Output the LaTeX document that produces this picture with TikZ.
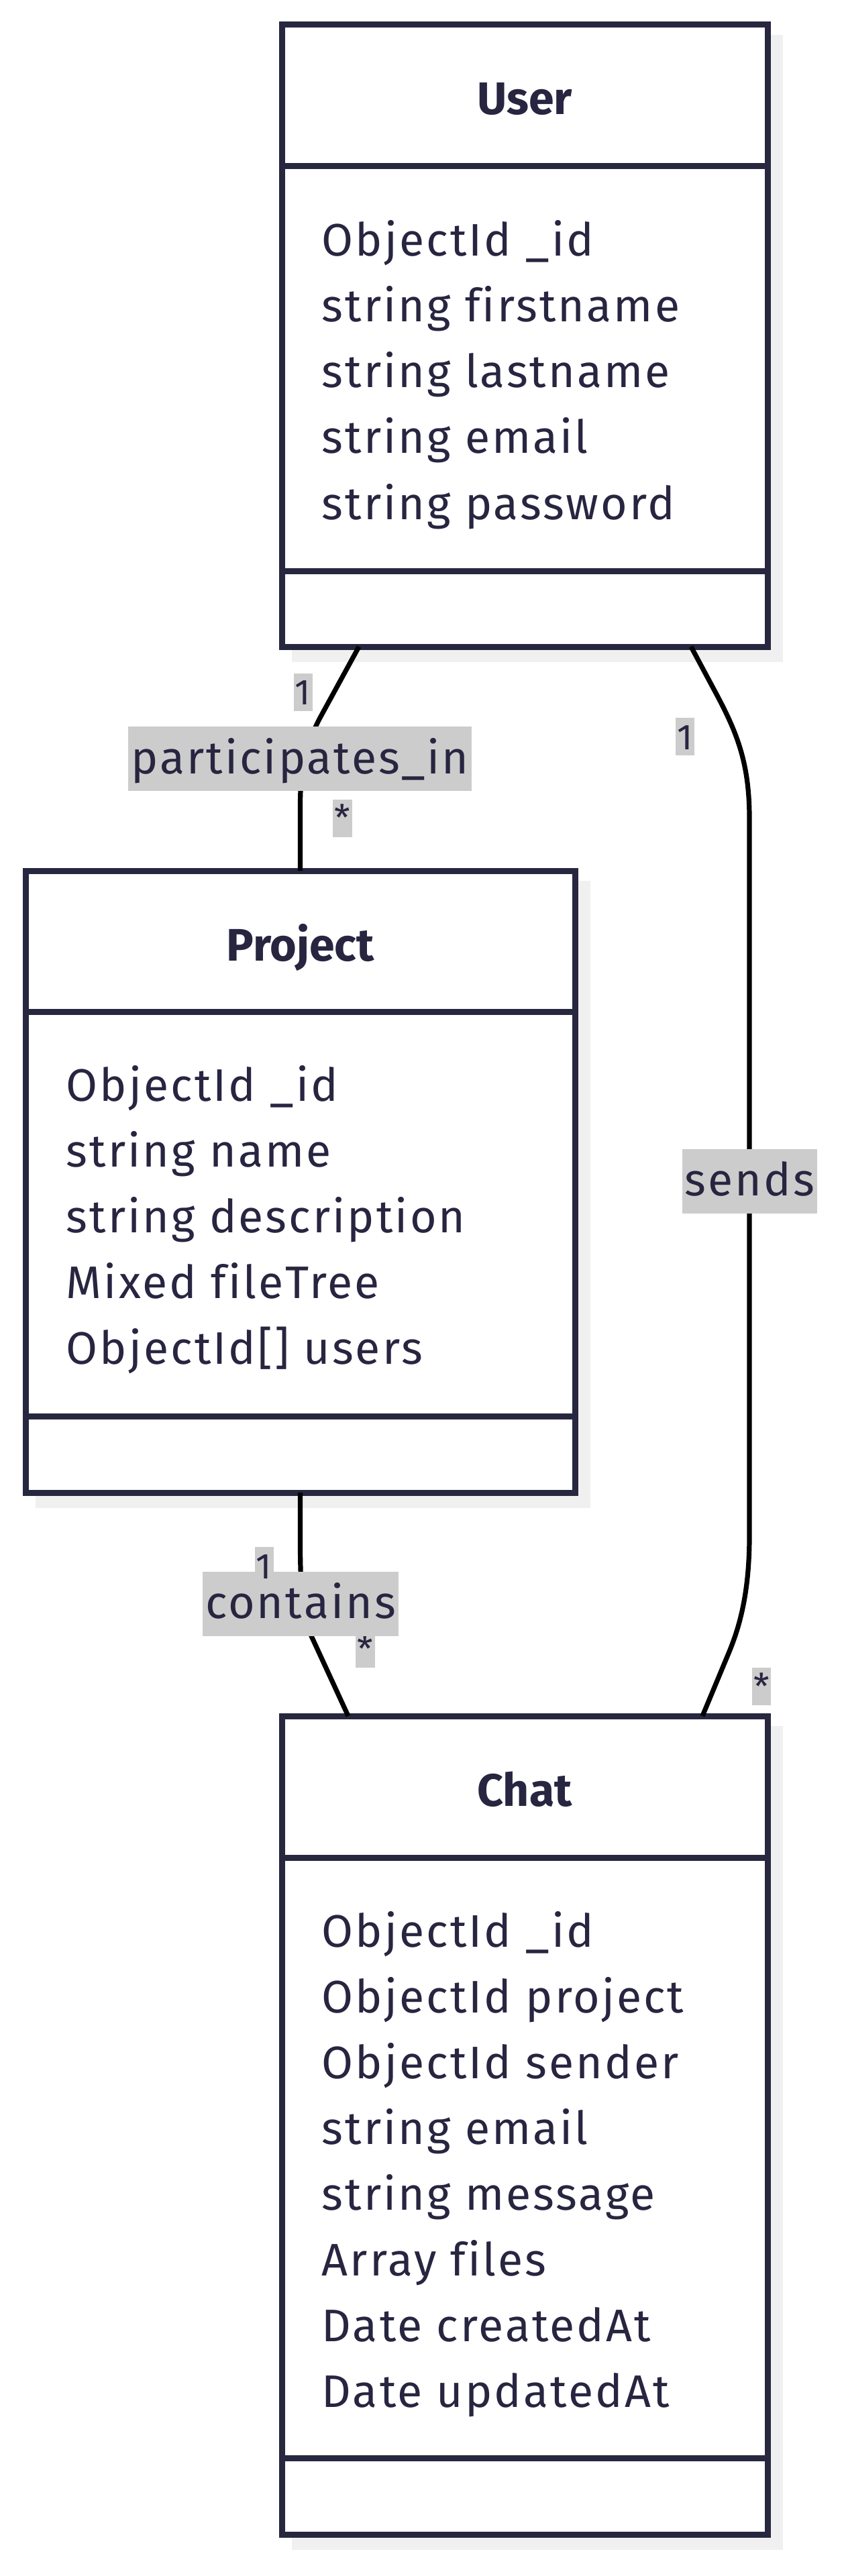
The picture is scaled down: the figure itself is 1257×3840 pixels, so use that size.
\documentclass[tikz,border=0pt]{standalone}
\usepackage{fontspec}
\setmainfont{Fira Sans}
\newfontfamily\attrfont{Fira Sans}[LetterSpace=4.5, Ligatures=NoCommon]
\usetikzlibrary{calc,backgrounds}
\definecolor{boxline}{HTML}{272740}
\definecolor{txt}{HTML}{272540}
\definecolor{lblbg}{HTML}{CCCCCC}
\definecolor{shadowc}{HTML}{F0F0F0}
\tikzset{
  classbox/.style={rectangle, draw=boxline, line width=2.25pt, fill=white, inner sep=0pt, outer sep=0pt},
  divider/.style={draw=boxline, line width=2.25pt},
  boxshadow/.style={fill=shadowc},
  title/.style={anchor=base, text=txt, inner sep=0pt, font=\fontsize{17pt}{20pt}\selectfont\bfseries},
  attr/.style={anchor=base west, text=txt, inner sep=0pt, font=\attrfont\fontsize{17pt}{20pt}\selectfont},
  rel/.style={draw=black, line width=1.8pt},
  edgelabel/.style={fill=lblbg, text=txt, inner xsep=1pt, inner ysep=0pt, text height=17.5pt, text depth=6.5pt, font=\attrfont\fontsize{17pt}{20pt}\selectfont},
  card/.style={fill=lblbg, text=txt, inner xsep=0.6pt, inner ysep=0pt, text height=11.75pt, text depth=2.25pt, font=\fontsize{13.4pt}{16pt}\selectfont},
}
\begin{document}
\begin{tikzpicture}[x=0.25pt, y=-0.25pt]
\useasboundingbox (0,0) rectangle (1257,3840);

% class boxes
\node[classbox, minimum width=181pt, minimum height=231.75pt] (user) at (782,500.5) {};
\node[classbox, minimum width=204.75pt, minimum height=231.75pt] (project) at (447.5,1761.5) {};
\node[classbox, minimum width=181pt, minimum height=305pt] (chat) at (782,3168) {};

% shadows
\begin{scope}[on background layer]
  \fill[boxshadow] ($(user.north west)+(15,15)$) rectangle ($(user.south east)+(23,23)$);
  \fill[boxshadow] ($(project.north west)+(15,15)$) rectangle ($(project.south east)+(23,23)$);
  \fill[boxshadow] ($(chat.north west)+(15,15)$) rectangle ($(chat.south east)+(23,23)$);
\end{scope}

% dividers
\draw[divider] ($(user.north west)+(0,211)$) -- ($(user.north east)+(0,211)$);
\draw[divider] ($(user.south west)+(0,-113)$) -- ($(user.south east)+(0,-113)$);
\draw[divider] ($(project.north west)+(0,210)$) -- ($(project.north east)+(0,210)$);
\draw[divider] ($(project.south west)+(0,-114)$) -- ($(project.south east)+(0,-114)$);
\draw[divider] ($(chat.north west)+(0,211)$) -- ($(chat.north east)+(0,211)$);
\draw[divider] ($(chat.south west)+(0,-114)$) -- ($(chat.south east)+(0,-114)$);

% titles
\node[title] (userT) at ($(user.north)+(0,134)$) {User};
\node[title] (projectT) at ($(project.north)+(0,134)$) {Project};
\node[title] (chatT) at ($(chat.north)+(0,134)$) {Chat};

% attributes
\node[attr] (u1) at ($(user.north west)+(59,345)$) {ObjectId \_id};
\node[attr] (u2) at ($(user.north west)+(59,443)$) {string firstname};
\node[attr] (u3) at ($(user.north west)+(59,541)$) {string lastname};
\node[attr] (u4) at ($(user.north west)+(59,639)$) {string email};
\node[attr] (u5) at ($(user.north west)+(59,737)$) {string password};

\node[attr] (p1) at ($(project.north west)+(60,343)$) {ObjectId \_id};
\node[attr] (p2) at ($(project.north west)+(60,441)$) {string name};
\node[attr] (p3) at ($(project.north west)+(60,539)$) {string description};
\node[attr] (p4) at ($(project.north west)+(60,637)$) {Mixed fileTree};
\node[attr] (p5) at ($(project.north west)+(60,735)$) {ObjectId[] users};

\node[attr] (c1) at ($(chat.north west)+(59,344)$) {ObjectId \_id};
\node[attr] (c2) at ($(chat.north west)+(59,442)$) {ObjectId project};
\node[attr] (c3) at ($(chat.north west)+(59,540)$) {ObjectId sender};
\node[attr] (c4) at ($(chat.north west)+(59,638)$) {string email};
\node[attr] (c5) at ($(chat.north west)+(59,736)$) {string message};
\node[attr] (c6) at ($(chat.north west)+(59,834)$) {Array files};
\node[attr] (c7) at ($(chat.north west)+(59,932)$) {Date createdAt};
\node[attr] (c8) at ($(chat.north west)+(59,1030)$) {Date updatedAt};

% connector end points
\coordinate (uP) at ($(user.south)+(-247,0)$);
\coordinate (uC) at ($(user.south)+(248,0)$);
\coordinate (cP) at ($(chat.north)+(-263,0)$);
\coordinate (cU) at ($(chat.north)+(265,0)$);

% connectors
\draw[rel] (uP) -- (477,1070) .. controls (455,1112) and (447.5,1150) .. (447.5,1200) -- (project.north);
\draw[rel] (project.south) -- (447.5,2300) .. controls (447.5,2395) and (455,2420) .. (466,2443) -- (cP);
\draw[rel] (uC) -- (1068,1035) .. controls (1100,1095) and (1117,1140) .. (1117,1220) -- (1117,2290) .. controls (1117,2380) and (1100,2430) .. (1087,2462) -- (cU);

% labels
\node[card] (m1) at (451.5,1031.5) {1};
\node[edgelabel] (l1) at (447,1131) {participates\_in};
\node[card] (m2) at (510.5,1219.5) {*};

\node[card] (m3) at (1021,1098) {1};
\node[edgelabel] (l2) at (1117.5,1760.5) {sends};
\node[card] (m4) at (1135,2514) {*};

\node[card] (m6) at (544.5,2458) {*};
\node[edgelabel] (l3) at (448,2390.5) {contains};
\node[card] (m5) at (393.5,2334) {1};
\end{tikzpicture}
\end{document}
